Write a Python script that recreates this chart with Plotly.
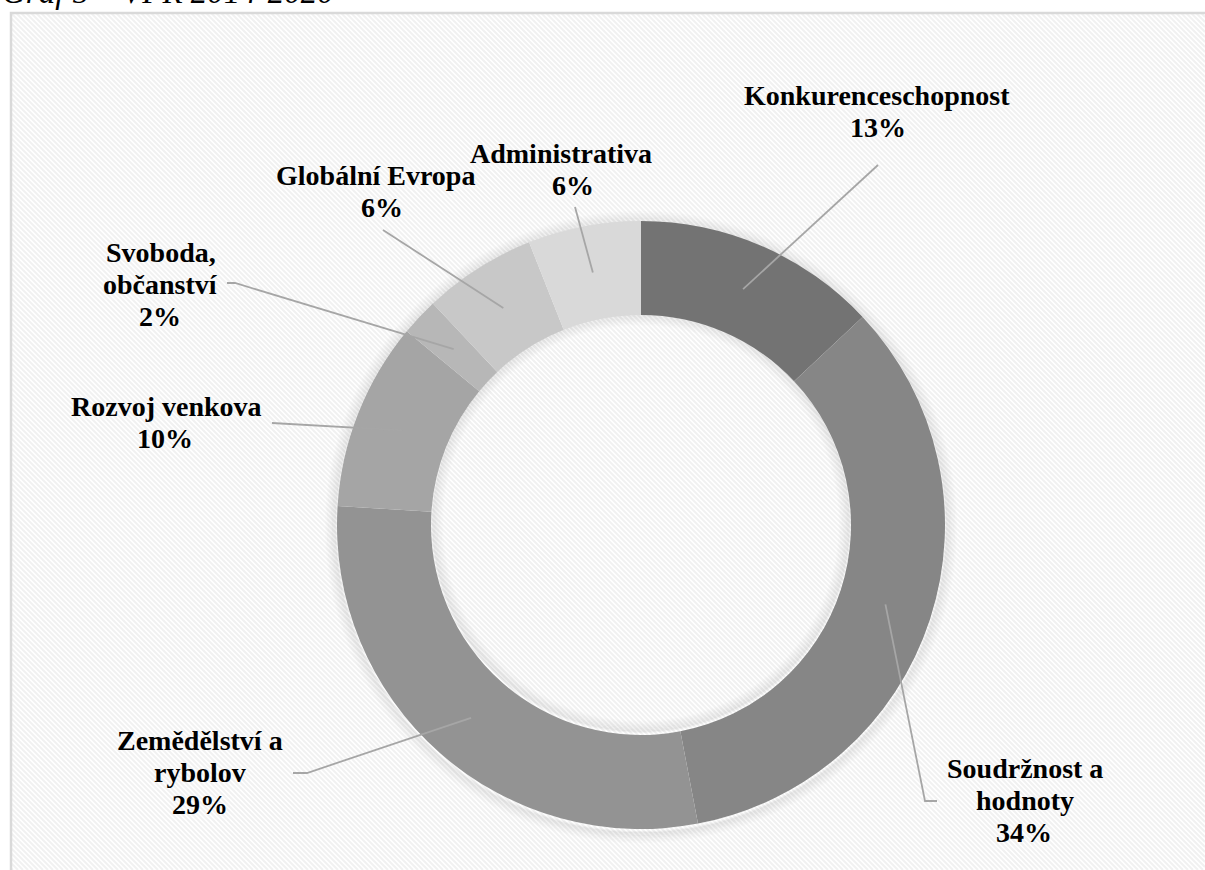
import math
import plotly.graph_objects as go

# ---------------- data ----------------
categories = ["Konkurenceschopnost", "Soudržnost a hodnoty", "Zemědělství a rybolov",
              "Rozvoj venkova", "Svoboda, občanství", "Globální Evropa", "Administrativa"]
values = [13, 34, 29, 10, 2, 6, 6]
# how each category name is broken into lines in its label
name_lines = [["Konkurenceschopnost"], ["Soudržnost a", "hodnoty"], ["Zemědělství a", "rybolov"],
              ["Rozvoj venkova"], ["Svoboda,", "občanství"], ["Globální Evropa"], ["Administrativa"]]
title_text = "Graf 5 – VFR 2014-2020"

# ---------------- styles / layout ----------------
W, H = 1205, 870
colors = ["#737373", "#868686", "#939393", "#a5a5a5", "#b7b7b7", "#c8c8c8", "#d9d9d9"]
CX, CY, R_OUT, R_IN = 641, 525, 304, 210
FONT = "Liberation Serif"
FS = 28
LINE_H = 32
LEADER = "#a6a6a6"

# label anchor: centre x for each text line, baseline of first line
label_x = [[877, 878], [1025, 1025, 1024], [200, 200, 200], [166, 165], [161, 160, 160], [375, 382], [561, 573]]
label_base = [105, 778, 750, 416, 262, 185, 163]
# leader line: points from the label side (elbow), ending at the slice
leader_pts = [[(878, 165)], [(937, 801), (925, 801)], [(293, 773), (307, 773)],
              [(272, 423)], [(227, 283), (235, 283)], [(383, 230)], [(575, 207)]]


def px(x):
    return x / W


def py(y):
    return 1 - y / H


fig = go.Figure()
fig.add_trace(go.Pie(
    values=values, labels=categories, sort=False, direction="clockwise", rotation=0,
    hole=R_IN / R_OUT, textinfo="none", hoverinfo="label+percent",
    marker=dict(colors=colors, line=dict(width=0)),
    domain=dict(x=[px(CX - R_OUT), px(CX + R_OUT)], y=[py(CY + R_OUT), py(CY - R_OUT)]),
    showlegend=False,
))

shapes = []
# background stripes inside the frame
x0f, y0f = 11, 13
segs = []
step = 5
k = -H
while k < W:
    xa, ya = x0f + k, y0f
    xb, yb = xa + (H - y0f), H
    if xa < x0f:
        ya = y0f + (x0f - xa)
        xa = x0f
    if xb > W:
        yb = yb - (xb - W)
        xb = W
    if xb > xa:
        segs.append(f"M{px(xa):.5f},{py(ya):.5f}L{px(xb):.5f},{py(yb):.5f}")
    k += step
shapes.append(dict(type="path", path="".join(segs), xref="paper", yref="paper",
                   line=dict(color="#f1f1f1", width=2), layer="below"))
# frame
shapes.append(dict(type="rect", xref="paper", yref="paper", x0=px(x0f), y0=py(H + 5), x1=px(W + 5), y1=py(y0f),
                   line=dict(color="#d9d9d9", width=2.5), fillcolor="rgba(0,0,0,0)", layer="below"))
# soft shadow around the ring
for i in range(1, 10):
    a = 0.05 * (1 - i / 10)
    r = R_OUT + i * 1.3
    shapes.append(dict(type="circle", xref="paper", yref="paper",
                       x0=px(CX - r), x1=px(CX + r), y0=py(CY + r + 2), y1=py(CY - r + 2),
                       line=dict(color=f"rgba(0,0,0,{a:.3f})", width=2.5), layer="below"))
    r2 = R_IN - i * 1.3
    shapes.append(dict(type="circle", xref="paper", yref="paper",
                       x0=px(CX - r2), x1=px(CX + r2), y0=py(CY + r2 - 2), y1=py(CY - r2 - 2),
                       line=dict(color=f"rgba(0,0,0,{a:.3f})", width=2.5), layer="below"))

# leader lines to slice midpoints
total = sum(values)
cum = 0
r_mid = (R_OUT + R_IN) / 2
for i, v in enumerate(values):
    th = 2 * math.pi * (cum + v / 2) / total
    cum += v
    ex, ey = CX + r_mid * math.sin(th), CY - r_mid * math.cos(th)
    pts = list(leader_pts[i]) + [(ex, ey)]
    path = "M" + "L".join(f"{px(x):.5f},{py(y):.5f}" for x, y in pts)
    shapes.append(dict(type="path", path=path, xref="paper", yref="paper",
                       line=dict(color=LEADER, width=1.8), layer="above"))

# labels
annotations = []
for i, v in enumerate(values):
    pct = f"{round(100 * v / total)}%"
    lines = name_lines[i] + [pct]
    for j, t in enumerate(lines):
        base = label_base[i] + j * LINE_H
        annotations.append(dict(text=f"<b>{t}</b>", x=px(label_x[i][j]), y=py(base - 0.3375 * FS),
                                xref="paper", yref="paper", xanchor="center", yanchor="middle",
                                showarrow=False, font=dict(family=FONT, size=FS, color="#000000")))

# title (partly cut off at the top of the page)
TS = 33
annotations.append(dict(text=f"<i>{title_text}</i>", x=0, y=py(3 - 0.3375 * TS), xref="paper", yref="paper",
                        xanchor="left", yanchor="middle", showarrow=False,
                        font=dict(family=FONT, size=TS, color="#000000")))

fig.update_layout(
    width=W, height=H, margin=dict(l=0, r=0, t=0, b=0),
    paper_bgcolor="#ffffff", plot_bgcolor="#ffffff",
    shapes=shapes, annotations=annotations,
)
fig.write_html("out.html", config={"displayModeBar": False},
               post_script="document.body.style.margin='0';document.body.style.overflow='hidden';")
